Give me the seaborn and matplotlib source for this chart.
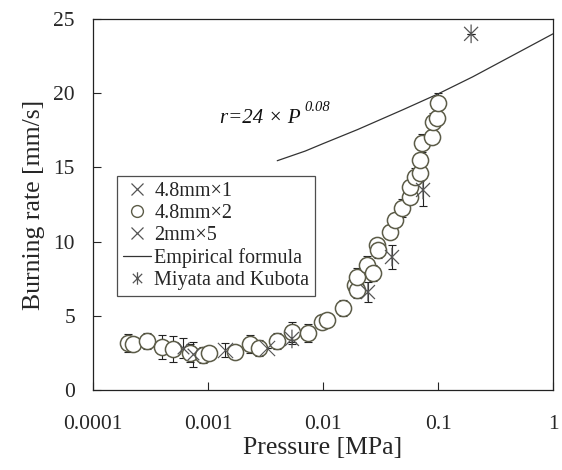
import matplotlib
matplotlib.use("Agg")
import numpy as np
import pandas as pd
import matplotlib.pyplot as plt
from matplotlib.path import Path
from matplotlib.lines import Line2D
import seaborn as sns

# --- data ---
# 4.8mm x 2 (open circles)
circ_p = [0.000201, 0.000223, 0.000295, 0.000398, 0.000497, 0.000697, 0.000906, 0.00102,
          0.00172, 0.00232, 0.00277, 0.00398, 0.00537, 0.00741, 0.00979, 0.01084,
          0.01493, 0.0190, 0.0198, 0.0198, 0.0242, 0.0272, 0.0295, 0.0301, 0.0383,
          0.0423, 0.0486, 0.0571, 0.0571, 0.0631, 0.0697, 0.0697, 0.0726, 0.0887,
          0.0906, 0.0980, 0.100]
circ_r = [3.17, 3.10, 3.30, 2.90, 2.76, 2.49, 2.36, 2.49, 2.56, 3.10, 2.83, 3.30, 3.91,
          3.84, 4.58, 4.72, 5.53, 7.08, 6.74, 7.61, 8.42, 7.88, 9.77, 9.43, 10.65,
          11.46, 12.26, 13.01, 13.68, 14.35, 14.62, 15.50, 16.64, 17.05, 18.06, 18.33,
          19.34]
circ_err = [0.6, 0.5, 0.55, 0.8, 0.85, 0.6, 0.55, 0.5, 0.5, 0.6, 0.55, 0.55, 0.7, 0.6,
            0.5, 0.5, 0.55, 0.5, 0.55, 0.6, 0.6, 0.55, 0.5, 0.55, 0.5, 0.5, 0.6, 0.5,
            0.5, 0.6, 0.55, 0.5, 0.6, 0.5, 0.6, 0.5, 0.7]

# 4.8mm x 1
one_p = [0.00061, 0.00074]
one_r = [2.83, 2.40]
one_err = [0.7, 0.85]

# 2mm x 5
five_p = [0.00141, 0.00326]
five_r = [2.70, 2.83]
five_err = [0.5, 0.0]

# Miyata and Kubota
mk_p = [0.00537, 0.0246, 0.0398, 0.0741, 0.194]
mk_r = [3.44, 6.60, 8.96, 13.48, 24.0]
mk_err = [0.35, 0.67, 0.78, 1.08, 0.0]

# empirical formula r = 24 x P^0.08
emp_p = [0.004, 0.007, 0.01, 0.02, 0.05, 0.1, 0.2, 0.5, 1.0]
emp_r = [15.45, 16.1, 16.6, 17.55, 18.9, 19.95, 21.1, 22.75, 24.0]

x_ticks = [0.0001, 0.001, 0.01, 0.1, 1]
x_labels = ["0.0001", "0.001", "0.01", "0.1", "1"]
y_ticks = [0, 5, 10, 15, 20, 25]

# --- style ---
sns.set_style("ticks")
plt.rcParams["font.family"] = ["Liberation Serif", "DejaVu Serif"]

circ_col = "#5c5c48"
mark_col = "#555555"
err_col = "#222222"

# asterisk marker: X plus vertical bar
star = Path([(0, -1), (0, 1), (-0.75, -0.75), (0.75, 0.75), (-0.75, 0.75), (0.75, -0.75)],
            [Path.MOVETO, Path.LINETO, Path.MOVETO, Path.LINETO, Path.MOVETO, Path.LINETO])

fig = plt.figure(figsize=(5.62, 4.70), dpi=100)
ax = fig.add_axes([0.1655, 0.1702, 0.8185, 0.7894])

circ_df = pd.DataFrame({"P": circ_p, "r": circ_r})
one_df = pd.DataFrame({"P": one_p, "r": one_r})
five_df = pd.DataFrame({"P": five_p, "r": five_r})
mk_df = pd.DataFrame({"P": mk_p, "r": mk_r})
emp_df = pd.DataFrame({"P": emp_p, "r": emp_r})

# error bars
for p, r, e in [(circ_p, circ_r, circ_err), (one_p, one_r, one_err),
                (five_p, five_r, five_err), (mk_p, mk_r, mk_err)]:
    ax.errorbar(p, r, yerr=e, fmt="none", ecolor=err_col, elinewidth=0.8,
                capsize=3, capthick=0.8, zorder=2)

sns.lineplot(data=emp_df, x="P", y="r", color="#333333", linewidth=0.9, ax=ax, zorder=3)
# circles: white inside so the error bar stems hide behind them, caps stay visible
sns.scatterplot(data=circ_df, x="P", y="r", marker="o", s=135, facecolor="white",
                edgecolor=circ_col, linewidth=1.1, ax=ax, zorder=4)
sns.scatterplot(data=one_df, x="P", y="r", marker="x", s=70, color=mark_col,
                linewidth=0.9, ax=ax, zorder=5)
sns.scatterplot(data=five_df, x="P", y="r", marker="x", s=120, color=mark_col,
                linewidth=0.8, ax=ax, zorder=5)
sns.scatterplot(data=mk_df, x="P", y="r", marker=star, s=180, facecolor="none",
                edgecolor=mark_col, linewidth=0.9, ax=ax, zorder=5)

ax.set_xscale("log")
ax.set_xlim(0.0001, 1)
ax.set_ylim(0, 25)
ax.set_xticks(x_ticks)
ax.set_xticklabels(x_labels)
ax.minorticks_off()
ax.set_yticks(y_ticks)
ax.tick_params(axis="x", direction="in", length=6, width=0.8, pad=18, labelsize=15.5)
ax.tick_params(axis="y", direction="in", length=6, width=0.8, pad=13, labelsize=15.5)
for s in ax.spines.values():
    s.set_linewidth(0.9)
    s.set_color("#222222")

ax.set_xlabel("Pressure [MPa]", fontsize=18.5, labelpad=2)
ax.set_ylabel("Burning rate [mm/s]", fontsize=18.5, labelpad=6)

# formula annotation, all italic, exponent as a small raised text
formula = ax.text(0.00127, 18.3, "r=24 \u00d7 P", fontsize=15, style="italic",
                  color="#111111", va="center", ha="left")
ax.annotate("0.08", xy=(1, 0.75), xycoords=formula, xytext=(3, 0),
            textcoords="offset points", fontsize=10.5, style="italic",
            color="#111111", va="bottom", ha="left")

handles = [
    Line2D([], [], ls="none", marker="x", ms=8, mew=0.9, color=mark_col),
    Line2D([], [], ls="none", marker="o", ms=8.5, mew=1.0, mfc="none", mec=circ_col),
    Line2D([], [], ls="none", marker="x", ms=8, mew=0.9, color=mark_col),
    Line2D([], [], color="#333333", lw=0.9),
    Line2D([], [], ls="none", marker=star, ms=9, mew=0.9, color=mark_col),
]
labels = ["4.8mm\u00d71", "4.8mm\u00d72", "2mm\u00d75", "Empirical formula", "Miyata and Kubota"]
leg = ax.legend(handles, labels, loc="upper left", bbox_to_anchor=(0.052, 0.577),
                borderaxespad=0, fontsize=14.5, frameon=True, fancybox=False,
                edgecolor="#222222", handlelength=1.4, handletextpad=0.15,
                labelspacing=0.15, borderpad=0.3)
leg.get_frame().set_linewidth(0.9)

fig.savefig("out.png", dpi=100)
